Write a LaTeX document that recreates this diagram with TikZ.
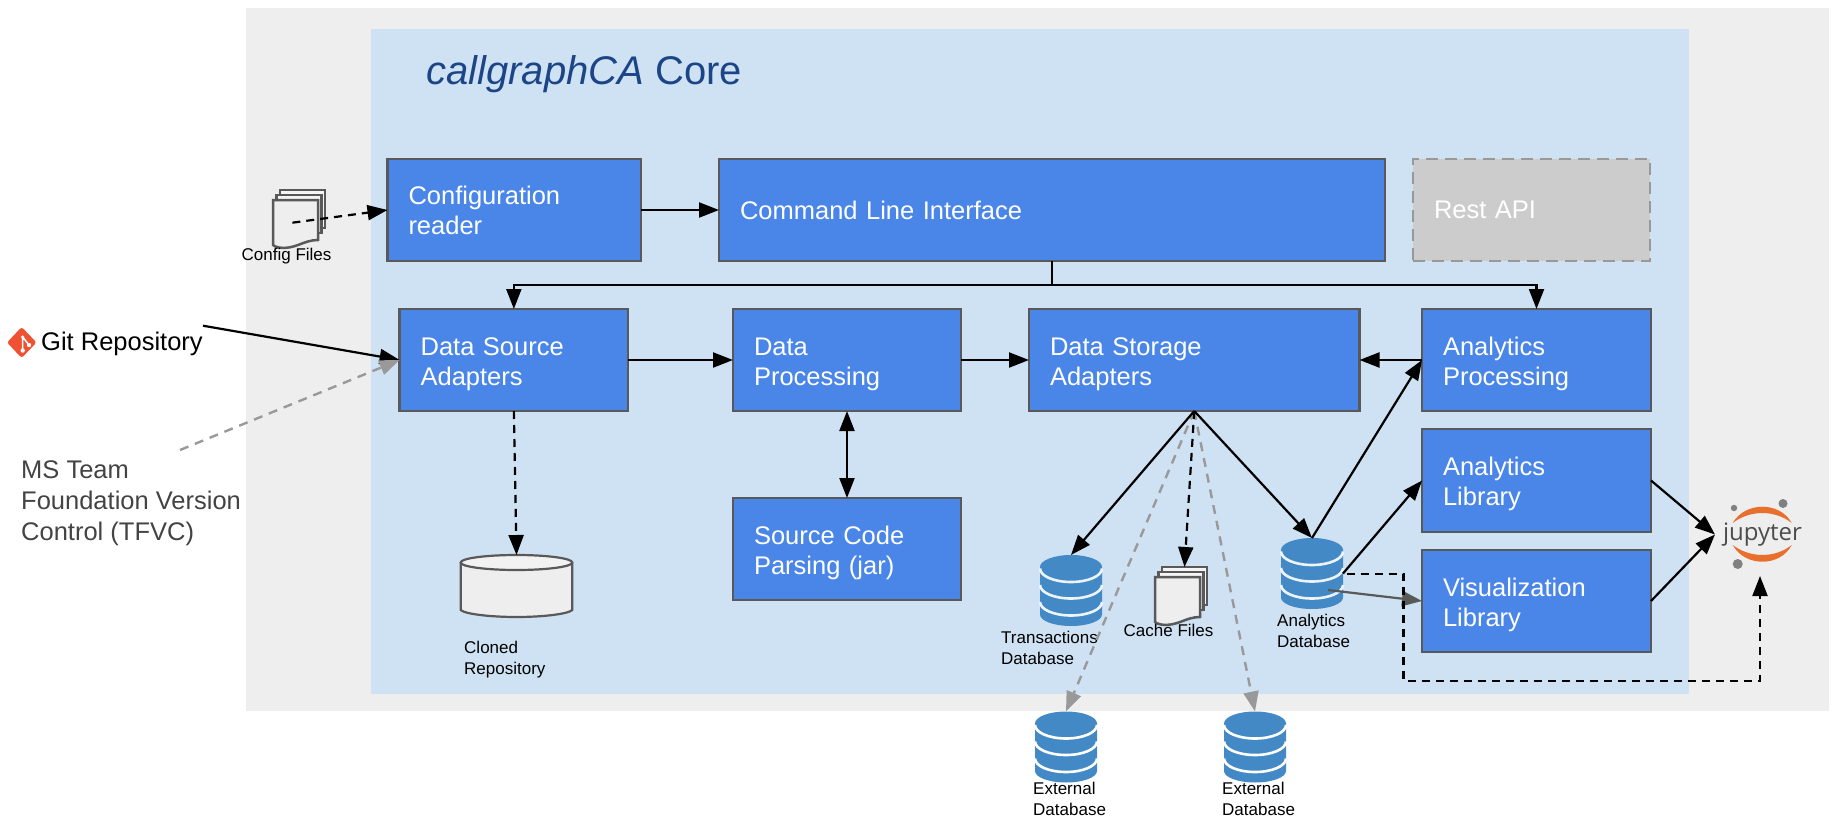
\documentclass[tikz,border=0pt]{standalone}
\usepackage{fontspec}
\setmainfont{Liberation Sans}
\newfontfamily\jupfont{Open Sans}
\usetikzlibrary{arrows.meta}
\definecolor{bgout}{HTML}{EEEEEE}
\definecolor{bgcore}{HTML}{CFE2F3}
\definecolor{boxblue}{HTML}{4A86E8}
\definecolor{boxline}{HTML}{595959}
\definecolor{titleblue}{HTML}{1C4587}
\definecolor{dbblue}{HTML}{4389C5}
\definecolor{tfvc}{HTML}{434343}
\definecolor{gitred}{HTML}{F05133}
\definecolor{juporange}{HTML}{E9702C}
\tikzset{
  bluebox/.style={anchor=north west,draw=boxline,line width=2.4pt,fill=boxblue,text=white,
    inner xsep=21pt,inner ysep=0pt,outer sep=0pt,align=left,
    font=\fontsize{25.5}{30}\selectfont},
  lowtext/.style={execute at begin node={\rule{0pt}{25.4pt}}},
  greybox/.style={bluebox,draw=black!40,fill=black!20,line width=2.6pt,dash pattern=on 12pt off 7pt},
  dbspot/.style={minimum width=62pt,minimum height=71pt,inner sep=0pt,outer sep=0pt},
  small/.style={anchor=north west,inner sep=0pt,align=left,font=\fontsize{17}{21}\selectfont},
  big/.style={inner sep=0pt,align=left,font=\fontsize{25.5}{31}\selectfont},
  conn/.style={draw=black,line width=2.2pt,-{Triangle[length=20pt,width=15pt]}},
  both/.style={draw=black,line width=2.2pt,{Triangle[length=20pt,width=15pt]}-{Triangle[length=20pt,width=15pt]}},
  dconn/.style={conn,dash pattern=on 8pt off 6pt},
  gconn/.style={draw=black!40,line width=2.4pt,dash pattern=on 9pt off 7pt,
    -{Triangle[length=20pt,width=15pt,black!40,sep=0pt]}},
  sconn/.style={draw=boxline,line width=2.2pt,-{Triangle[length=20pt,width=15pt,boxline]}},
  pagesheet/.style={draw=boxline,line width=2.5pt,fill=bgout},
}
\newcommand{\dbicon}[2]{%
  \begin{scope}[shift={(#1)}]
    \fill[dbblue] (-31,-23.5) arc[start angle=180,end angle=0,x radius=31pt,y radius=12pt]
      -- (31,24) arc[start angle=360,end angle=180,x radius=31pt,y radius=11.5pt] -- cycle;
    \foreach \yy in {-22,-5.5,11.5}
      \draw[#2,line width=2.6pt] (-31,\yy) arc[start angle=180,end angle=360,x radius=31pt,y radius=13.5pt];
  \end{scope}}
\newcommand{\pagestack}[1]{%
  \begin{scope}[shift={(#1)}]
    \draw[pagesheet,fill=black!4] (7,-10) rectangle (52,28);
    \draw[pagesheet,fill=black!4] (3.5,-5) rectangle (48.5,33);
    \draw[pagesheet] (0,0) -- (45,0) -- (45,40) .. controls (30,40) and (22,50) .. (6,47.5) .. controls (3,47) and (1,46) .. (0,45) -- cycle;
  \end{scope}}
\begin{document}
\begin{tikzpicture}[x=1pt,y=-1pt]
\useasboundingbox (0,0) rectangle (1842,832);
% backgrounds
\fill[bgout] (245.5,8) rectangle (1829,711);
\fill[bgcore] (371,29) rectangle (1689,694);
\node[anchor=base west,inner sep=0pt,text=titleblue,font=\fontsize{40}{48}\selectfont] (title) at (426,85) {\textit{callgraphCA} Core};
% boxes
\node[bluebox,minimum width=253.5pt,minimum height=102pt,text width=211.5pt] (cfg) at (387.5,159) {Configuration\\reader};
\node[bluebox,minimum width=666pt,minimum height=102pt,text width=624pt] (cli) at (719,159) {Command Line Interface};
\node[greybox,minimum width=237pt,minimum height=102pt,text width=195pt] (rest) at (1413,159) {Rest API};
\node[bluebox,lowtext,minimum width=228.5pt,minimum height=102pt,text width=186.5pt] (dsa) at (399.6,309) {Data Source\\Adapters};
\node[bluebox,lowtext,minimum width=228pt,minimum height=102pt,text width=186pt] (dp) at (733,309) {Data\\Processing};
\node[bluebox,lowtext,minimum width=330.5pt,minimum height=102pt,text width=288.5pt] (dst) at (1029,309) {Data Storage\\Adapters};
\node[bluebox,lowtext,minimum width=229pt,minimum height=102pt,text width=187pt] (ap) at (1422,309) {Analytics\\Processing};
\node[bluebox,lowtext,minimum width=229pt,minimum height=103pt,text width=187pt] (al) at (1422,429) {Analytics\\Library};
\node[bluebox,lowtext,minimum width=229pt,minimum height=102pt,text width=187pt] (vl) at (1422,550) {Visualization\\Library};
\node[bluebox,lowtext,minimum width=228pt,minimum height=102pt,text width=186pt] (scp) at (733,498) {Source Code\\Parsing (jar)};
% outside sources
\node[anchor=base west,inner sep=0pt,text=black,font=\fontsize{25.5}{30}\selectfont] (git) at (41,350) {Git Repository};
\fill[gitred,rounded corners=2.5pt] (21.7,327) -- (36.5,342.5) -- (21.7,358) -- (7,342.5) -- cycle;
\draw[white,line width=1.5pt] (22.7,336) -- (22.7,350) (22.7,337) -- (29,345);
\fill[white] (22.7,350.5) circle[radius=2.2pt] (29,345) circle[radius=2.2pt] (22.7,337) circle[radius=1.8pt];
\node[big,anchor=north west,text=tfvc] (tfvcl) at (21,460.5) {MS Team\\Foundation Version\\Control (TFVC)};
\coordinate (gitout) at (203,325.7);
\coordinate (tfvcout) at (180,450);
% cylinder
\node[minimum width=112pt,minimum height=62pt,inner sep=0pt,outer sep=0pt] (clone) at (516.5,586) {};
\draw[draw=boxline,line width=2.2pt,fill=bgout] (460.7,562.5) -- (460.7,610) .. controls (465,614) and (490,617) .. (516.5,617) .. controls (543,617) and (568,614) .. (572.3,610) -- (572.3,562.5);
\draw[draw=boxline,line width=2.2pt,fill=black!5] (516.5,562.5) ellipse[x radius=55.8pt,y radius=7.5pt];
\node[small] (clonel) at (464,641) {Cloned\\Repository};
% databases
\node[dbspot] (dbT) at (1071,590.5) {};
\node[dbspot] (dbA) at (1312,573.5) {};
\node[dbspot] (dbE1) at (1066,747) {};
\node[dbspot] (dbE2) at (1255,747) {};
\dbicon{dbT.center}{bgcore!40!white}
\dbicon{dbA.center}{bgcore!40!white}
\dbicon{dbE1.center}{white}
\dbicon{dbE2.center}{white}
\node[small] (dbTl) at (1001,631) {Transactions\\Database};
\node[small] (dbAl) at (1277,614) {Analytics\\Database};
\node[small] (dbE1l) at (1033,782) {External\\Database};
\node[small] (dbE2l) at (1222,782) {External\\Database};
% files
\coordinate (cfgTL) at (273,200);
\coordinate (cacheTL) at (1155,577);
\pagestack{cfgTL}\pagestack{cacheTL}
\node[small] (cfgl) at (241.5,248) {Config Files};
\node[small] (cachel) at (1123.5,624) {Cache Files};
\coordinate (cfgin) at (292.4,222.7);
\coordinate (cacheTop) at (1184.5,567);
% jupyter
\node[minimum width=90pt,minimum height=83pt,inner sep=0pt,outer sep=0pt,text=black!70,font=\jupfont\fontsize{24}{28}\selectfont] (jup) at (1760,534.5) {\raisebox{3pt}{\hspace*{5pt}jupyter}};
\fill[juporange] (1732.7,523) .. controls (1745,501.3) and (1780,501.3) .. (1791.7,523) .. controls (1775,509.7) and (1750,509.7) .. cycle;
\fill[juporange] (1732.7,545) .. controls (1745,567.3) and (1780,567.3) .. (1791.7,545) .. controls (1775,558.3) and (1750,558.3) .. cycle;
\fill[black!50] (1734,508) circle[radius=3.2pt] (1783,503.5) circle[radius=4.5pt] (1737.7,564) circle[radius=5pt];
% connectors
\coordinate (bus) at (1052,285);
\draw[conn] (cfg.east) -- (cfg.east -| cli.west);
\draw[conn] (cli.south) -- (bus) -| (dsa.north);
\draw[conn] (bus) -| (ap.north);
\draw[dconn] (cfgin) -- (cfg.west);
\draw[conn] (gitout) -- (dsa.west);
\draw[gconn] (tfvcout) -- (dsa.west);
\draw[conn] (dsa.east) -- (dp.west);
\draw[conn] (dp.east) -- (dst.west);
\draw[conn] (ap.west) -- (dst.east);
\draw[both] (dp.south) -- (scp.north);
\draw[dconn] (dsa.south) -- (clone.north);
\draw[gconn] (dst.south) -- (dbE1.north);
\draw[gconn] (dst.south) -- (dbE2.north);
\draw[conn] (dst.south) -- (dbT.north);
\draw[conn] (dst.south) -- (dbA.north);
\draw[dconn] (dst.south) -- (cacheTop);
\draw[conn] (dbA.north) -- (ap.west);
\draw[conn] (dbA.east) -- (al.west);
\coordinate (dbAin) at (1328,590);
\draw[sconn] (dbAin) -- (vl.west);
\coordinate (dbAdash) at (1346.5,574);
\coordinate (turn) at (1403.4,680.7);
\draw[dconn] (dbAdash) -| (turn) -| (jup.south);
\draw[conn] (al.east) -- (jup.west);
\draw[conn] (vl.east) -- (jup.west);
\end{tikzpicture}
\end{document}
